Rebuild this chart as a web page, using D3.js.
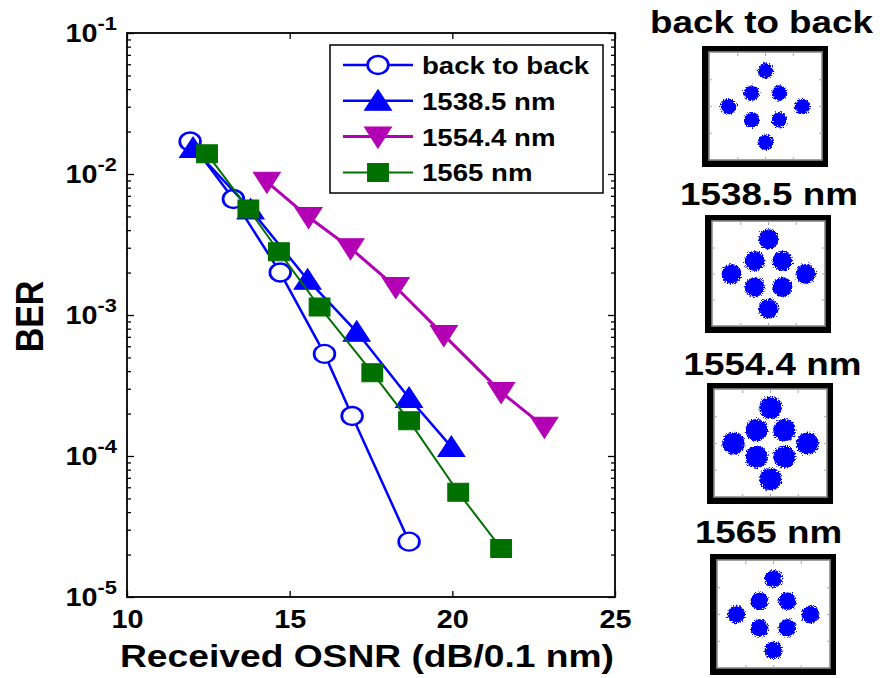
<!DOCTYPE html>
<html>
<head>
<meta charset="utf-8">
<script src="https://cdn.jsdelivr.net/npm/d3@7"></script>
<style>
body { margin: 0; background: #fff; }
text { font-family: "Liberation Sans", Arial, sans-serif; font-weight: bold; fill: #000; }
</style>
</head>
<body>
<script>
// BER curves
let seriesNames = ['back to back', '1538.5 nm', '1554.4 nm', '1565 nm']
let osnrB2B = [11.94, 13.27, 14.71, 16.07, 16.92, 18.67]
let berB2B = [1.7e-2, 6.65e-3, 2.0e-3, 5.3e-4, 1.92e-4, 2.47e-5]
let osnr1538 = [12.03, 13.8, 15.55, 17.06, 18.67, 19.97]
let ber1538 = [1.53e-2, 5.6e-3, 1.78e-3, 7.6e-4, 2.58e-4, 1.16e-4]
let osnr1554 = [14.3, 15.58, 16.87, 18.26, 19.74, 21.5, 22.83]
let ber1554 = [8.8e-3, 4.95e-3, 2.98e-3, 1.58e-3, 7.2e-4, 2.84e-4, 1.61e-4]
let osnr1565 = [12.46, 13.73, 14.67, 15.92, 17.54, 18.67, 20.18, 21.5]
let ber1565 = [1.39e-2, 5.65e-3, 2.81e-3, 1.14e-3, 3.9e-4, 1.78e-4, 5.53e-5, 2.21e-5]

let xTicks = [10, 15, 20, 25]
let yTicks = [1e-5, 1e-4, 1e-3, 1e-2, 1e-1]
let yExp = ['-5', '-4', '-3', '-2', '-1']

// constellation insets: ideal symbol positions and cluster spread (symbol units)
let symI = [0, -0.375, 0.375, -1, 1, -0.375, 0.375, 0]
let symQ = [1, 0.375, 0.375, 0, 0, -0.375, -0.375, -1]
let spread = [0.21, 0.27, 0.3, 0.24]

let sx = 1.15 // the original picture is a bit wider than tall

let series = [
    { name: seriesNames[0], x: osnrB2B, y: berB2B, color: '#0000ff', marker: 'circle', lw: 2.5 },
    { name: seriesNames[1], x: osnr1538, y: ber1538, color: '#0000ff', marker: 'up', lw: 2.5 },
    { name: seriesNames[2], x: osnr1554, y: ber1554, color: '#b400b4', marker: 'down', lw: 3 },
    { name: seriesNames[3], x: osnr1565, y: ber1565, color: '#007000', marker: 'square', lw: 2 }
]

let markerPath = {
    circle: d3.symbol().type(d3.symbolCircle).size(Math.PI * 81)(),
    up: 'M0,-11L11.7,9.5L-11.7,9.5Z',
    down: 'M0,11.5L11.7,-9.5L-11.7,-9.5Z',
    square: 'M-9,-9H9V9H-9Z'
}

let svg = d3.select('body').append('svg')
    .attr('width', 880)
    .attr('height', 678)

let x = d3.scaleLinear().domain([10, 25]).range([127, 615])
let y = d3.scaleLog().domain([1e-5, 1e-1]).range([597, 33])
let minorY = y.ticks().filter(v => yTicks.indexOf(v) < 0 && Math.abs(Math.log10(v) % 1) > 1e-6)

// ticks (all inward)
function cleanAxis(g) {
    g.select('.domain').remove()
    g.selectAll('.tick line').attr('stroke', '#000').attr('stroke-width', 1.3)
}
svg.append('g').attr('transform', 'translate(0,597)')
    .call(d3.axisBottom(x).tickValues(xTicks).tickSize(-6).tickPadding(13))
    .call(cleanAxis)
    .selectAll('text')
    .attr('font-size', 25)
    .attr('font-family', null)
    .attr('transform', 'scale(' + sx + ',1)')
svg.append('g').attr('transform', 'translate(0,33)')
    .call(d3.axisTop(x).tickValues(xTicks).tickSize(-6).tickFormat(''))
    .call(cleanAxis)
svg.append('g').attr('transform', 'translate(127,0)')
    .call(d3.axisLeft(y).tickValues(yTicks).tickSize(-7).tickFormat(''))
    .call(cleanAxis)
svg.append('g').attr('transform', 'translate(127,0)')
    .call(d3.axisLeft(y).tickValues(minorY).tickSize(-4).tickFormat(''))
    .call(cleanAxis)
svg.append('g').attr('transform', 'translate(615,0)')
    .call(d3.axisRight(y).tickValues(yTicks).tickSize(-7).tickFormat(''))
    .call(cleanAxis)
svg.append('g').attr('transform', 'translate(615,0)')
    .call(d3.axisRight(y).tickValues(minorY).tickSize(-4).tickFormat(''))
    .call(cleanAxis)

// y tick labels 10^n
let ylab = svg.append('g').selectAll('text')
    .data(yTicks)
    .enter()
    .append('text')
    .attr('text-anchor', 'end')
    .attr('transform', d => 'translate(117,' + (y(d) + 9) + ') scale(' + sx + ',1)')
ylab.append('tspan').attr('font-size', 25).text('10')
ylab.append('tspan').attr('font-size', 19).attr('dy', -12).text((d, i) => yExp[i])

// curves
let lineGen = d3.line().x(d => x(d[0])).y(d => y(d[1]))
series.forEach(function(s) {
    let pts = s.x.map((v, i) => [v, s.y[i]])
    svg.append('path')
        .attr('d', lineGen(pts))
        .attr('fill', 'none')
        .attr('stroke', s.color)
        .attr('stroke-width', s.lw)
    svg.append('g').selectAll('path')
        .data(pts)
        .enter()
        .append('path')
        .attr('d', markerPath[s.marker])
        .attr('transform', d => 'translate(' + x(d[0]) + ',' + y(d[1]) + ') scale(' + sx + ',1)')
        .attr('fill', s.marker == 'circle' ? '#fff' : s.color)
        .attr('stroke', s.color)
        .attr('stroke-width', s.marker == 'circle' ? 2.4 : 1)
})

// frame
svg.append('rect')
    .attr('x', 127).attr('y', 33)
    .attr('width', 488).attr('height', 564)
    .attr('fill', 'none')
    .attr('stroke', '#000')
    .attr('stroke-width', 1.8)

// legend
let lg = svg.append('g')
lg.append('rect')
    .attr('x', 330).attr('y', 45)
    .attr('width', 273).attr('height', 148)
    .attr('fill', '#fff')
    .attr('stroke', '#000')
    .attr('stroke-width', 1.5)
series.forEach(function(s, i) {
    let ry = 65 + i * 35.8
    lg.append('line')
        .attr('x1', 343).attr('x2', 413)
        .attr('y1', ry).attr('y2', ry)
        .attr('stroke', s.color)
        .attr('stroke-width', s.lw)
    lg.append('path')
        .attr('d', markerPath[s.marker])
        .attr('transform', 'translate(378,' + ry + ') scale(' + sx + ',1)')
        .attr('fill', s.marker == 'circle' ? '#fff' : s.color)
        .attr('stroke', s.color)
        .attr('stroke-width', s.marker == 'circle' ? 2.4 : 1)
    lg.append('text')
        .attr('transform', 'translate(422,' + (ry + 9) + ') scale(' + sx + ',1)')
        .attr('font-size', 24)
        .text(s.name)
})

// axis titles
svg.append('text')
    .attr('text-anchor', 'middle')
    .attr('transform', 'translate(367,667) scale(1.2,1)')
    .attr('font-size', 31)
    .text('Received OSNR (dB/0.1 nm)')
svg.append('text')
    .attr('text-anchor', 'middle')
    .attr('transform', 'translate(43,316.5) rotate(-90) scale(1,' + sx + ')')
    .attr('font-size', 34)
    .text('BER')

// constellation insets
let defs = svg.append('defs')
let flt = defs.append('filter').attr('id', 'rough')
    .attr('x', '-20%').attr('y', '-20%').attr('width', '140%').attr('height', '140%')
flt.append('feTurbulence')
    .attr('type', 'fractalNoise')
    .attr('baseFrequency', 0.8)
    .attr('numOctaves', 2)
    .attr('result', 'noise')
flt.append('feDisplacementMap')
    .attr('in', 'SourceGraphic')
    .attr('in2', 'noise')
    .attr('scale', 6)
    .attr('xChannelSelector', 'R')
    .attr('yChannelSelector', 'G')

let boxX = [702, 705, 707, 710]
let boxY = [46, 215, 383, 554]
let boxH = [121, 118, 121, 121]
let titleX = [761.5, 769, 772.5, 768.5]
let titleY = [33, 205, 375, 543]

seriesNames.forEach(function(name, p) {
    let bx = boxX[p], by = boxY[p], bw = 126, bh = boxH[p]
    let g = svg.append('g')
    g.append('text')
        .attr('text-anchor', 'middle')
        .attr('transform', 'translate(' + titleX[p] + ',' + titleY[p] + ') scale(' + sx + ',1)')
        .attr('font-size', 32)
        .text(name)
    g.append('rect')
        .attr('x', bx).attr('y', by)
        .attr('width', bw).attr('height', bh)
        .attr('fill', '#000')
    g.append('rect')
        .attr('x', bx + 7).attr('y', by + 6)
        .attr('width', bw - 13).attr('height', bh - 13)
        .attr('fill', '#fff')
        .attr('stroke', '#8a8a8a')
        .attr('stroke-width', 1.6)
    let ix = d3.scaleLinear().domain([-1.5, 1.5]).range([bx + 8, bx + bw - 7])
    let iy = d3.scaleLinear().domain([-1.5, 1.5]).range([by + bh - 7, by + 7])
    let qt = [-0.75, 0, 0.75]
    qt.forEach(function(t) {
        g.append('line').attr('x1', ix(t)).attr('x2', ix(t))
            .attr('y1', by + 7).attr('y2', by + 10)
            .attr('stroke', '#aaa').attr('stroke-width', 1)
        g.append('line').attr('x1', ix(t)).attr('x2', ix(t))
            .attr('y1', by + bh - 7).attr('y2', by + bh - 10)
            .attr('stroke', '#aaa').attr('stroke-width', 1)
        g.append('line').attr('y1', iy(t)).attr('y2', iy(t))
            .attr('x1', bx + 7).attr('x2', bx + 10)
            .attr('stroke', '#aaa').attr('stroke-width', 1)
        g.append('line').attr('y1', iy(t)).attr('y2', iy(t))
            .attr('x1', bx + bw - 6).attr('x2', bx + bw - 9)
            .attr('stroke', '#aaa').attr('stroke-width', 1)
    })
    let r = spread[p] * (ix(1) - ix(0))
    g.append('g')
        .attr('filter', 'url(#rough)')
        .selectAll('circle')
        .data(symI.map((v, i) => [v, symQ[i]]))
        .enter()
        .append('circle')
        .attr('cx', d => ix(d[0]))
        .attr('cy', d => iy(d[1]))
        .attr('r', r)
        .attr('fill', '#0000ff')
})
</script>
</body>
</html>
